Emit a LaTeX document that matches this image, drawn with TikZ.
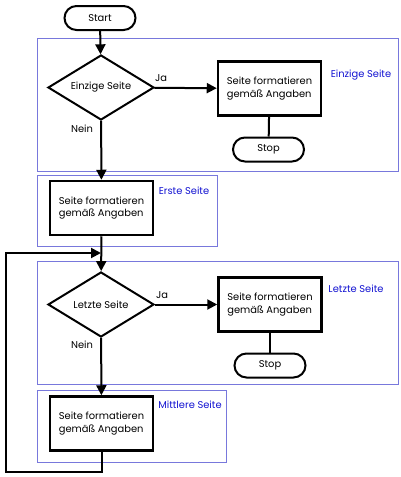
\documentclass[tikz,border=0pt]{standalone}
\usepackage{fontspec}
\setmainfont{Poppins}
\usetikzlibrary{shapes.geometric,shapes.misc,arrows.meta}
\definecolor{zoneline}{RGB}{120,120,220}
\definecolor{zonetext}{RGB}{20,20,210}
\begin{document}
\begin{tikzpicture}[x=1pt,y=-1pt,
  every node/.style={font=\fontsize{9.9}{12.5}\selectfont},
  flow/.style={line width=2pt,-{Triangle[length=10pt,width=10pt]}},
  link/.style={line width=2pt},
  zone/.style={draw=zoneline,line width=0.8pt},
  zonelabel/.style={text=zonetext},
  terminal/.style={rounded rectangle,draw,line width=2pt,minimum width=71pt,minimum height=24pt,inner sep=0pt},
  decision/.style={diamond,draw,line width=2pt,minimum width=106pt,minimum height=65pt,aspect=1.6,inner sep=0pt},
  process/.style={rectangle,draw,line width=2.5pt,minimum width=103pt,minimum height=54pt,align=left,inner sep=0pt}]
\path[fill=white] (0,0) rectangle (401,477);
\draw[zone] (37,38) rectangle (398,171);
\draw[zone] (37,175) rectangle (217,246);
\draw[zone] (37,261) rectangle (398,384);
\draw[zone] (37,390) rectangle (226,462);
\node[zonelabel] (lblEinzig) at (361,75) {Einzige Seite};
\node[zonelabel] (lblErste) at (184,191) {Erste Seite};
\node[zonelabel] (lblLetzte) at (356,289) {Letzte Seite};
\node[zonelabel] (lblMitte) at (190,405) {Mittlere Seite};
\node[terminal] (start) at (100,18) {Start};
\node[decision] (einzig) at (101,87.5) {Einzige Seite};
\node[process] (fmtEinzig) at (269.5,88.5) {Seite formatieren\\gemäß Angaben};
\node[terminal] (stopEinzig) at (268.5,149.5) {Stop};
\node[process] (fmtErste) at (101.5,208) {Seite formatieren\\gemäß Angaben};
\coordinate (merge) at (101,253);
\node[decision] (letzte) at (101,304.5) {Letzte Seite};
\node[process] (fmtLetzte) at (270,304.5) {Seite formatieren\\gemäß Angaben};
\node[terminal] (stopLetzte) at (270,365.5) {Stop};
\node[process] (fmtMitte) at (101.5,423.5) {Seite formatieren\\gemäß Angaben};
\node (jaEinzig) at (161,78) {Ja};
\node (neinEinzig) at (82,129) {Nein};
\node (jaLetzte) at (162,295) {Ja};
\node (neinLetzte) at (82,345) {Nein};
\draw[flow] (start) -- (einzig);
\draw[flow] (einzig) -- (fmtEinzig);
\draw[link] (fmtEinzig) -- (stopEinzig);
\draw[flow] (einzig) -- (fmtErste);
\draw[flow] (fmtErste) -- (letzte);
\draw[flow] (letzte) -- (fmtLetzte);
\draw[link] (fmtLetzte) -- (stopLetzte);
\draw[flow] (letzte) -- (fmtMitte);
\draw[flow] (fmtMitte.south) -- ++(0,20) -- ++(-96,0) |- (merge);
\end{tikzpicture}
\end{document}
